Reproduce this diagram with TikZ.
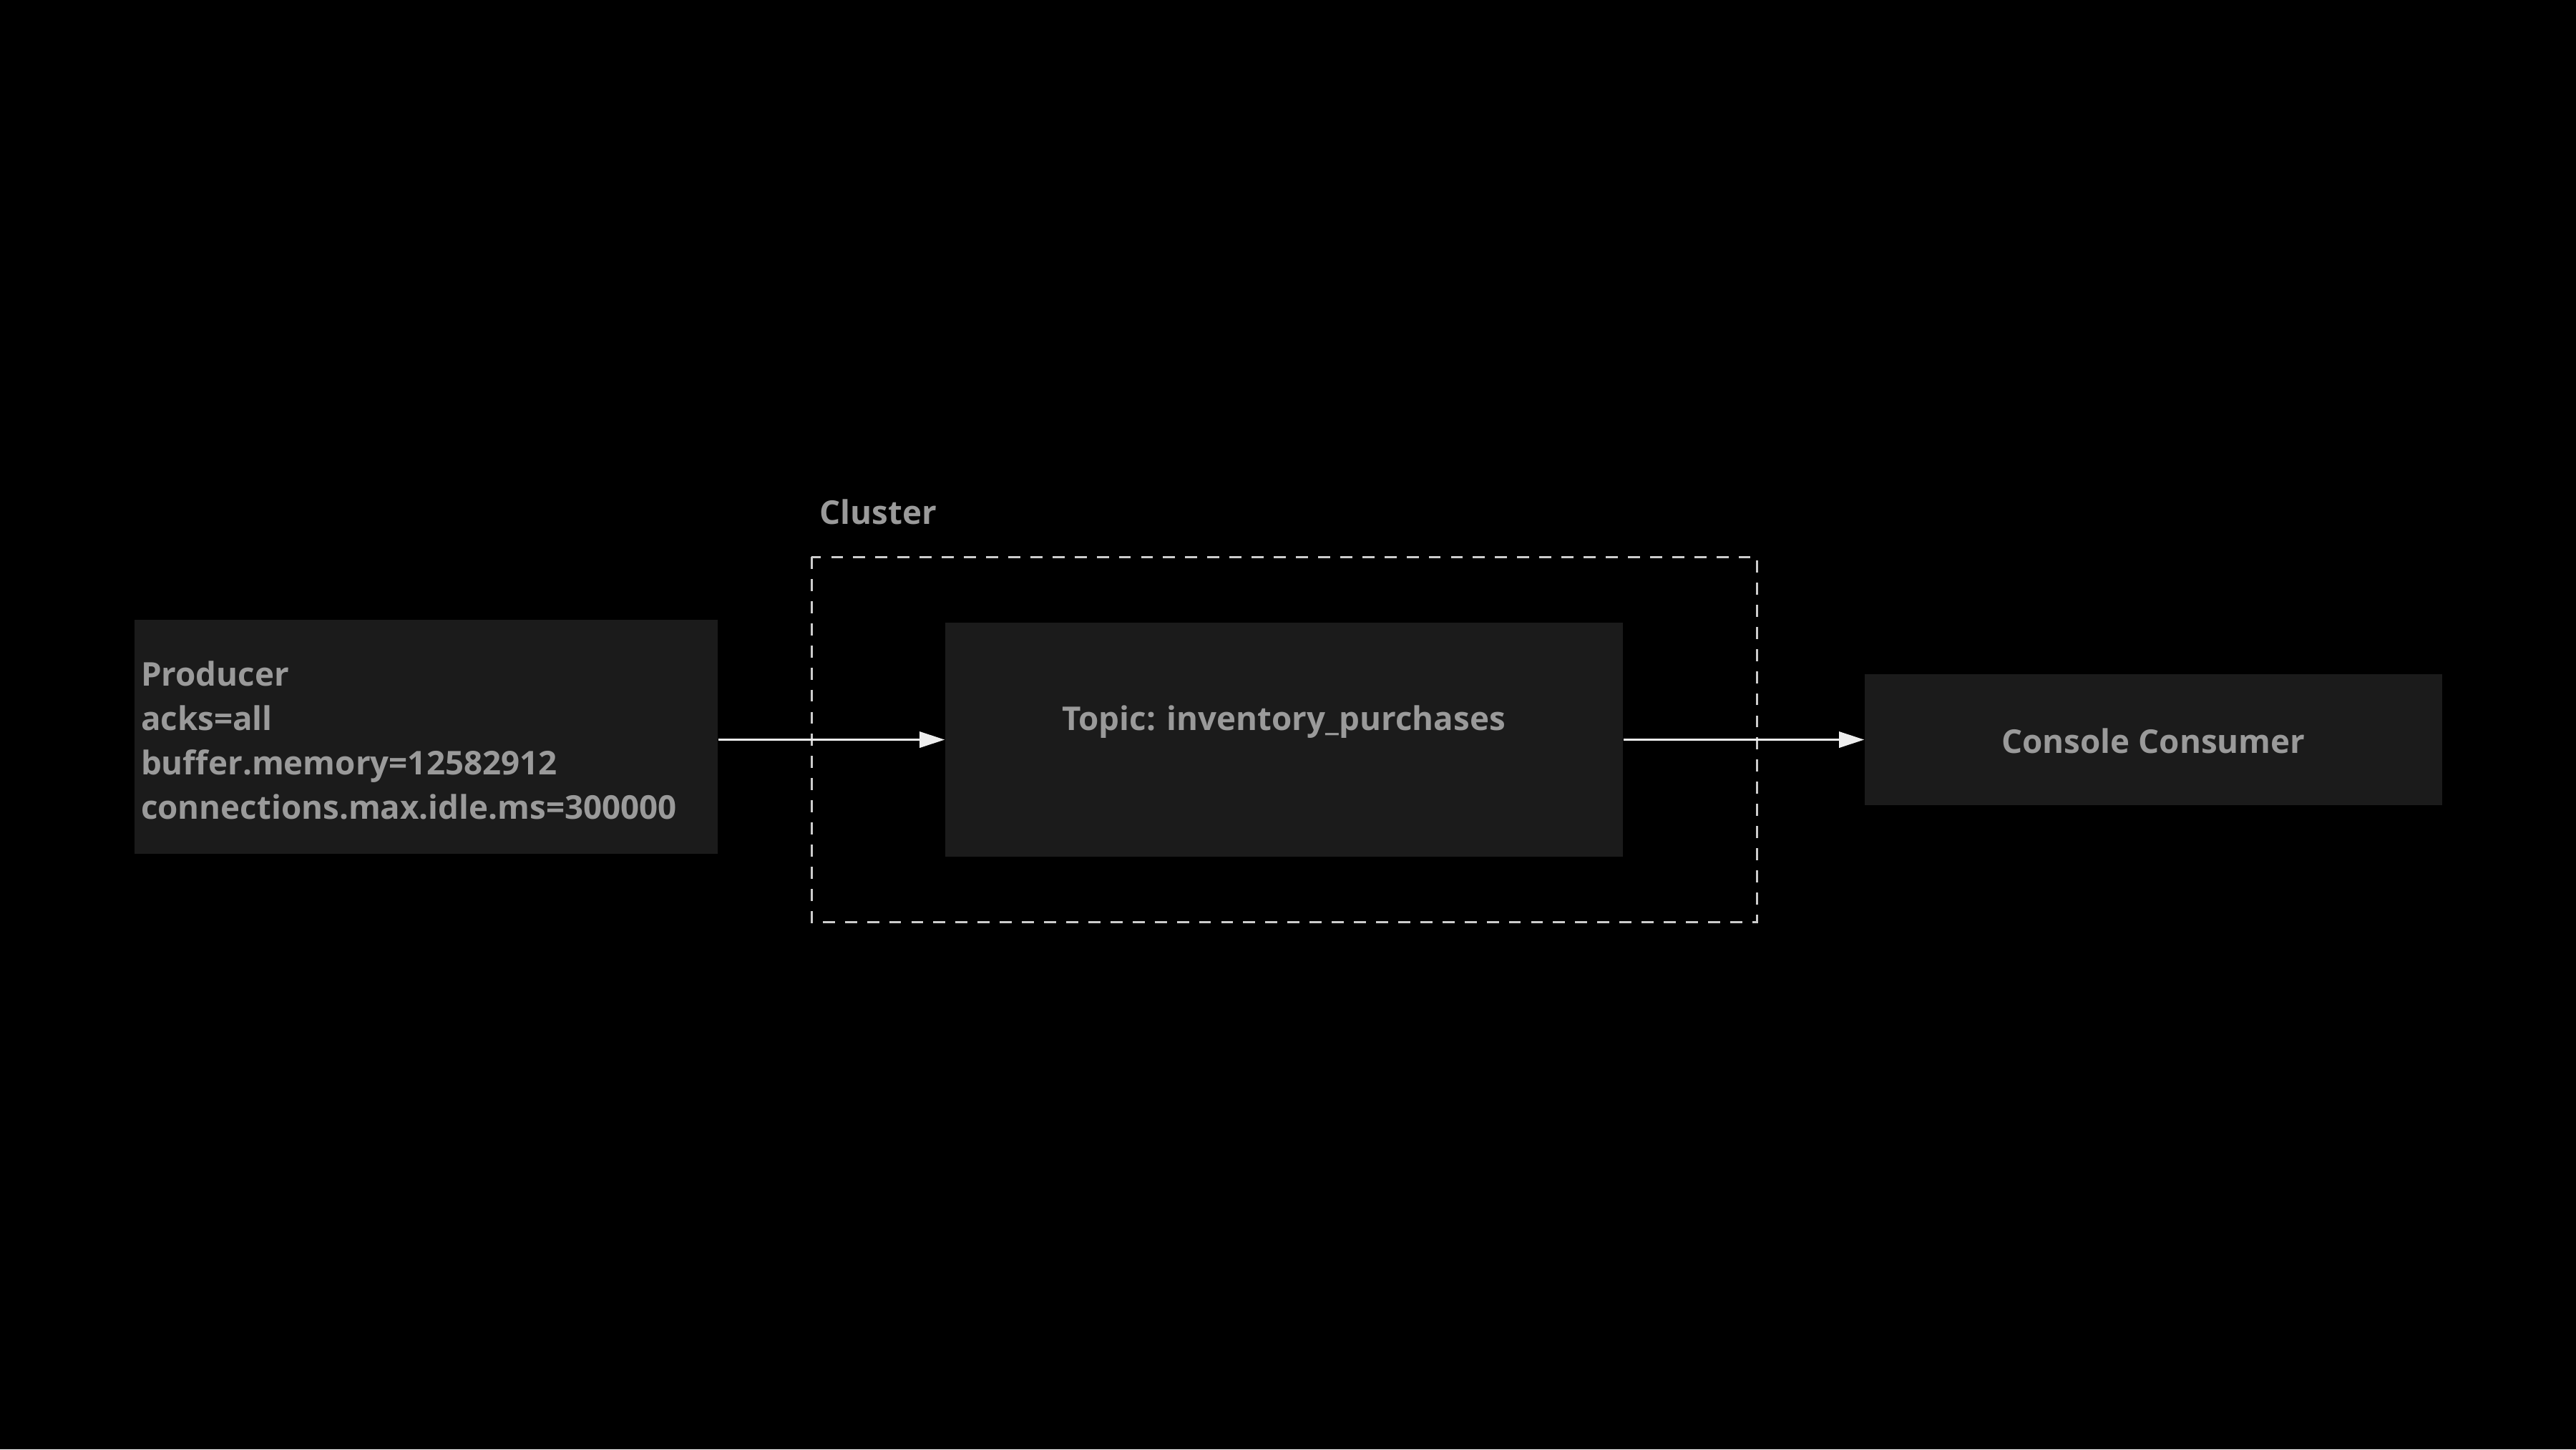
\documentclass[tikz,border=0pt]{standalone}
\usepackage{fontspec}
\setmainfont{Open Sans}
\usetikzlibrary{arrows.meta}
\definecolor{boxfill}{HTML}{1B1B1B}
\definecolor{txt}{HTML}{9A9A9A}
\definecolor{dashc}{HTML}{CCCCCC}
\definecolor{arrc}{HTML}{EEEEEE}
\begin{document}
\begin{tikzpicture}[
  box/.style={fill=boxfill, draw=none, rectangle, inner sep=0pt},
  lbl/.style={text=txt, font=\fontsize{13}{17.6}\selectfont\bfseries, inner sep=0pt},
  arr/.style={draw=arrc, line width=0.85pt, -{Triangle[length=10pt,width=6.3pt]}},
  clusterline/.style={draw=dashc, line width=0.85pt, dash pattern=on 4.8pt off 4pt}
]
\useasboundingbox[fill=black] (0,0) rectangle (36,-20.25);
% boxes
\node[box, minimum width=8.15cm, minimum height=3.27cm] (prod) at (5.955,-10.295) {};
\node[lbl, anchor=west, align=left] (prodtxt) at ([xshift=0.09cm,yshift=-0.05cm]prod.west)
  {Producer\\acks=all\\buffer.memory=12582912\\connections.max.idle.ms=300000};
\node[box, minimum width=9.47cm, minimum height=3.27cm] (topic) at (17.945,-10.335) {};
\node[lbl] (topiclbl) at (17.94,-10.09) {Topic: inventory\_purchases};
\node[box, minimum width=8.07cm, minimum height=1.83cm] (cons) at (30.095,-10.33) {};
\node[lbl] (constxt) at ([yshift=-0.02cm]cons.center) {Console Consumer};
% cluster
\draw[clusterline] (11.34,-7.78) rectangle (24.555,-12.88);
\node[lbl, anchor=base west] (clusterlbl) at (11.45,-7.32) {Cluster};
% connectors
\draw[arr] (prod.east |- topic.west) -- (topic.west);
\draw[arr] (topic.east) -- (cons.west |- topic.east);
\end{tikzpicture}
\end{document}
